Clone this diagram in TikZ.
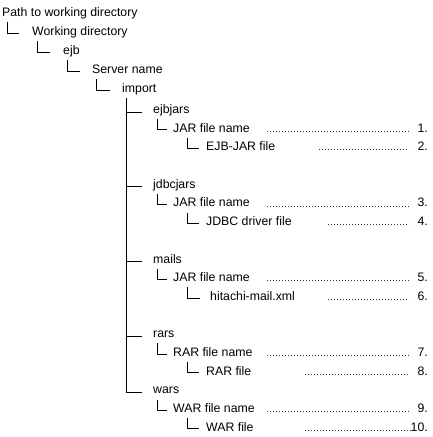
\documentclass[tikz,border=0pt]{standalone}
\usepackage{fontspec}
\setmainfont{Liberation Sans}
\usetikzlibrary{calc}
\begin{document}
\begin{tikzpicture}[x=1pt,y=-1pt,
  t/.style={anchor=west,inner sep=0pt,text height=8.8pt,text depth=0pt,font=\fontsize{12.3}{14}\selectfont},
  num/.style={t,anchor=east},
  tree/.style={draw=black,line width=1pt},
  leader/.style={draw=black!80,line width=0.9pt,dash pattern=on 0.9pt off 2.1pt}]
\useasboundingbox (0,0) rectangle (433,437);
% tree texts
\node[t] (p)   at (2,12)    {Path to working directory};
\node[t] (wd)  at (32,31)   {Working directory};
\node[t] (ejb) at (63,50)   {ejb};
\node[t] (sv)  at (92,69)   {Server name};
\node[t] (im)  at (122,88)  {import};
\node[t] (ej)  at (153,109) {ejbjars};
\node[t] (j1)  at (173,127.7) {JAR file name};
\node[t] (f1)  at (206,146.4) {EJB-JAR file};
\node[t] (jd)  at (153,183.8) {jdbcjars};
\node[t] (j2)  at (173,202.5) {JAR file name};
\node[t] (f2)  at (206,221.2) {JDBC driver file};
\node[t] (ml)  at (153,258.6) {mails};
\node[t] (j3)  at (173,277.3) {JAR file name};
\node[t] (f3)  at (210,296)   {hitachi-mail.xml};
\node[t] (rr)  at (153,333.4) {rars};
\node[t] (r1)  at (173,352.1) {RAR file name};
\node[t] (f4)  at (206,370.8) {RAR file};
\node[t] (wr)  at (153,389.5) {wars};
\node[t] (w1)  at (173,408.2) {WAR file name};
\node[t] (f5)  at (206,426.9) {WAR file};
% numbers
\node[num] (n1)  at (428,127.7) {1.};
\node[num] (n2)  at (428,146.4) {2.};
\node[num] (n3)  at (428,202.5) {3.};
\node[num] (n4)  at (428,221.2) {4.};
\node[num] (n5)  at (428,277.3) {5.};
\node[num] (n6)  at (428,296)   {6.};
\node[num] (n7)  at (428,352.1) {7.};
\node[num] (n8)  at (428,370.8) {8.};
\node[num] (n9)  at (428,408.2) {9.};
\node[num] (n10) at (428,426.9) {10.};
% tree connectors
\draw[tree] ($(p.west)+(5,10)$)   |- ($(wd.west)+(-13,2)$);
\draw[tree] ($(wd.west)+(5,10)$)  |- ($(ejb.west)+(-13,2)$);
\draw[tree] ($(ejb.west)+(4,10)$) |- ($(sv.west)+(-12,2)$);
\draw[tree] ($(sv.west)+(4,10)$)  |- ($(im.west)+(-12,2)$);
\draw[tree] ($(im.west)+(4,10)$)  |- ($(wr.west)+(-11,3)$);
\draw[tree] ($(ej.west)+(-27,3)$) -- ($(ej.west)+(-11,3)$);
\draw[tree] ($(jd.west)+(-27,3)$) -- ($(jd.west)+(-11,3)$);
\draw[tree] ($(ml.west)+(-27,3)$) -- ($(ml.west)+(-11,3)$);
\draw[tree] ($(rr.west)+(-27,3)$) -- ($(rr.west)+(-11,3)$);
\draw[tree] ($(ej.west)+(4,10)$) |- ($(j1.west)+(-6,2)$);
\draw[tree] ($(jd.west)+(4,10)$) |- ($(j2.west)+(-6,2)$);
\draw[tree] ($(ml.west)+(4,10)$) |- ($(j3.west)+(-6,2)$);
\draw[tree] ($(rr.west)+(4,10)$) |- ($(r1.west)+(-6,2)$);
\draw[tree] ($(wr.west)+(4,10)$) |- ($(w1.west)+(-6,2)$);
\draw[tree] ($(j1.west)+(14,10)$) |- ($(f1.west)+(-7,2)$);
\draw[tree] ($(j2.west)+(14,10)$) |- ($(f2.west)+(-7,2)$);
\draw[tree] ($(j3.west)+(14,10)$) |- ($(f3.west)+(-10,2)$);
\draw[tree] ($(r1.west)+(14,10)$) |- ($(f4.west)+(-7,2)$);
\draw[tree] ($(w1.west)+(14,10)$) |- ($(f5.west)+(-7,2)$);
% leaders
\draw[leader] ($(j1.west)+(94,3.5)$)  -- ($(n1.east)+(-19,3.5)$);
\draw[leader] ($(f1.west)+(113,3.5)$) -- ($(n2.east)+(-19,3.5)$);
\draw[leader] ($(j2.west)+(94,3.5)$)  -- ($(n3.east)+(-19,3.5)$);
\draw[leader] ($(f2.west)+(122,3.5)$) -- ($(n4.east)+(-19,3.5)$);
\draw[leader] ($(j3.west)+(94,3.5)$)  -- ($(n5.east)+(-19,3.5)$);
\draw[leader] ($(f3.west)+(118,3.5)$) -- ($(n6.east)+(-19,3.5)$);
\draw[leader] ($(r1.west)+(94,3.5)$)  -- ($(n7.east)+(-19,3.5)$);
\draw[leader] ($(f4.west)+(99,3.5)$)  -- ($(n8.east)+(-19,3.5)$);
\draw[leader] ($(w1.west)+(94,3.5)$)  -- ($(n9.east)+(-19,3.5)$);
\draw[leader] ($(f5.west)+(99,3.5)$)  -- ($(n10.east)+(-17,3.5)$);
\end{tikzpicture}
\end{document}
